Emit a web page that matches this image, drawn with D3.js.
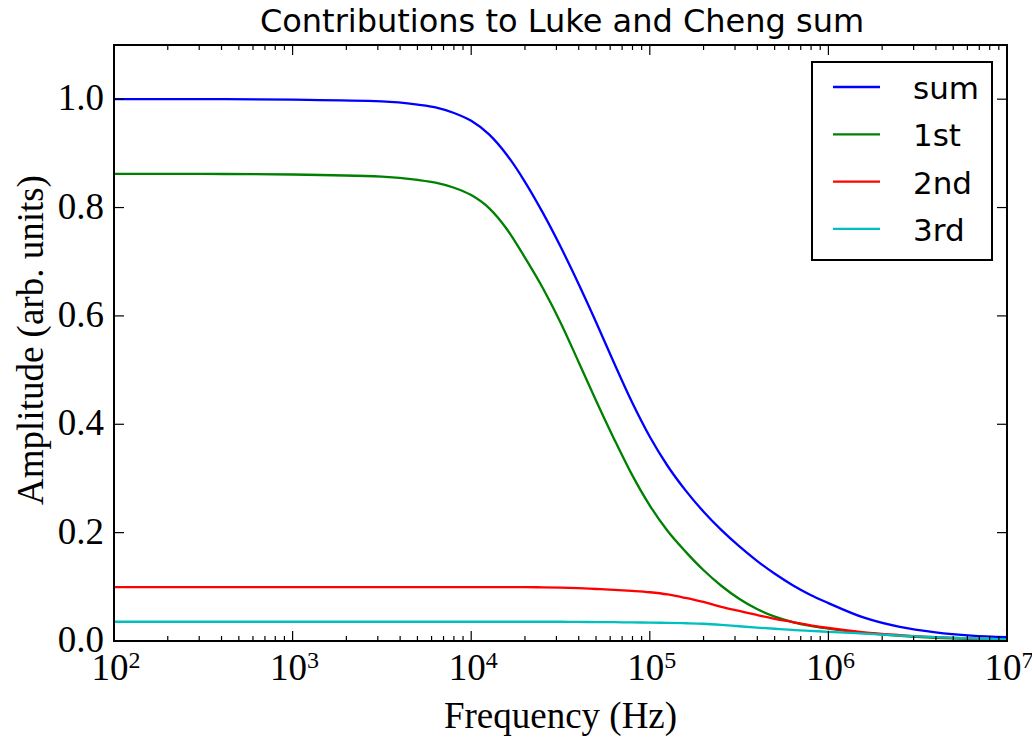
<!DOCTYPE html>
<html>
<head>
<meta charset="utf-8">
<script src="https://cdn.jsdelivr.net/npm/d3@7"></script>
<style>
  html, body { margin: 0; padding: 0; background: #fff; }
  svg { display: block; }
</style>
</head>
<body>
<svg id="chart" width="1032" height="738"></svg>
<script>
// ---- data ----
// log10 of frequency (Hz) at which the curves were read
const logFreq = [2, 2.5, 3, 3.5, 3.7, 3.8, 3.9,
                 4.0, 4.1, 4.2, 4.3, 4.4, 4.5, 4.6, 4.7, 4.8, 4.9,
                 5.0, 5.1, 5.2, 5.3, 5.4, 5.5, 5.6, 5.7, 5.8, 5.9,
                 6.0, 6.2, 6.4, 6.6, 6.8, 7.0];
const sumVals = [1.0, 1.0, 0.999, 0.996, 0.99, 0.985, 0.975,
                 0.96, 0.935, 0.897, 0.848, 0.791, 0.728, 0.66, 0.588, 0.513, 0.441,
                 0.377, 0.323, 0.278, 0.239, 0.205, 0.175, 0.148, 0.124, 0.103, 0.085,
                 0.07, 0.043, 0.026, 0.016, 0.010, 0.007];
const firstVals = [0.862, 0.862, 0.861, 0.857, 0.851, 0.846, 0.837,
                   0.823, 0.799, 0.76, 0.708, 0.652, 0.588, 0.516, 0.443, 0.373, 0.307,
                   0.25, 0.203, 0.165, 0.131, 0.102, 0.078, 0.059, 0.045, 0.035, 0.028,
                   0.023, 0.015, 0.0095, 0.006, 0.004, 0.003];
const secondVals = [0.0995, 0.0995, 0.0995, 0.0995, 0.0995, 0.0995, 0.0995,
                    0.0995, 0.0995, 0.0995, 0.0995, 0.099, 0.0985, 0.0975, 0.096, 0.0945, 0.0925,
                    0.09, 0.086, 0.0795, 0.072, 0.063, 0.0555, 0.048, 0.041, 0.035, 0.029,
                    0.024, 0.016, 0.011, 0.007, 0.0045, 0.003];
const thirdVals = [0.0355, 0.0355, 0.0355, 0.0355, 0.0355, 0.0355, 0.0355,
                   0.0355, 0.0355, 0.0355, 0.0355, 0.0355, 0.0355, 0.0352, 0.035, 0.0347, 0.0343,
                   0.034, 0.0335, 0.0328, 0.0318, 0.0298, 0.0272, 0.0248, 0.0226, 0.0205, 0.0186,
                   0.017, 0.0135, 0.010, 0.007, 0.0048, 0.003];
const seriesNames = ["sum", "1st", "2nd", "3rd"];
const seriesColors = ["#0000ff", "#008000", "#ff0000", "#00bfbf"];
const yTicks = [0.0, 0.2, 0.4, 0.6, 0.8, 1.0];
const xTickExps = [2, 3, 4, 5, 6, 7];
const titleText = "Contributions to Luke and Cheng sum";
const xLabel = "Frequency (Hz)";
const yLabel = "Amplitude (arb. units)";

// ---- layout ----
const svg = d3.select("#chart");
const L = 114, R = 1007, T = 45, B = 641;
const x = d3.scaleLog().domain([1e2, 1e7]).range([L, R]);
const y = d3.scaleLinear().domain([0, 1.1]).range([B, T]);
const serif = "'Liberation Serif', 'Times New Roman', serif";
const sans = "'DejaVu Sans', sans-serif";

// curves
const allSeries = [sumVals, firstVals, secondVals, thirdVals];
const line = d3.line().x(d => x(d[0])).y(d => y(d[1])).curve(d3.curveMonotoneX);
svg.append("clipPath").attr("id", "clip").append("rect")
  .attr("x", L).attr("y", T).attr("width", R - L).attr("height", B - T);
allSeries.forEach((vals, i) => {
  svg.append("path")
    .datum(logFreq.map((lf, j) => [Math.pow(10, lf), vals[j]]))
    .attr("d", line)
    .attr("fill", "none")
    .attr("stroke", seriesColors[i])
    .attr("stroke-width", 2.3)
    .attr("clip-path", "url(#clip)");
});

// ticks (inward, on all four sides)
const minor = [];
for (let e = 2; e < 7; e++) for (let k = 2; k <= 9; k++) minor.push(k * Math.pow(10, e));
const tickG = svg.append("g").attr("stroke", "#000").attr("stroke-width", 1.2);
minor.forEach(v => {
  tickG.append("line").attr("x1", x(v)).attr("x2", x(v)).attr("y1", B).attr("y2", B - 5);
  tickG.append("line").attr("x1", x(v)).attr("x2", x(v)).attr("y1", T).attr("y2", T + 5);
});
xTickExps.forEach(e => {
  const v = Math.pow(10, e);
  tickG.append("line").attr("x1", x(v)).attr("x2", x(v)).attr("y1", B).attr("y2", B - 10);
  tickG.append("line").attr("x1", x(v)).attr("x2", x(v)).attr("y1", T).attr("y2", T + 10);
});
yTicks.forEach(v => {
  tickG.append("line").attr("x1", L).attr("x2", L + 10).attr("y1", y(v)).attr("y2", y(v));
  tickG.append("line").attr("x1", R).attr("x2", R - 10).attr("y1", y(v)).attr("y2", y(v));
});

// frame
svg.append("rect").attr("x", L).attr("y", T).attr("width", R - L).attr("height", B - T)
  .attr("fill", "none").attr("stroke", "#000").attr("stroke-width", 2);

// y tick labels
yTicks.forEach(v => {
  svg.append("text").attr("x", L - 10).attr("y", y(v) + 11)
    .attr("text-anchor", "end").attr("font-family", serif).attr("font-size", 37)
    .text(v.toFixed(1));
});
// x tick labels (10^n)
xTickExps.forEach(e => {
  const t = svg.append("text").attr("x", x(Math.pow(10, e)) + 2).attr("y", 680)
    .attr("text-anchor", "middle").attr("font-family", serif).attr("font-size", 37);
  t.append("tspan").text("10");
  t.append("tspan").attr("font-size", 24).attr("dy", -12).text(String(e));
});

// axis labels
svg.append("text").attr("x", (L + R) / 2).attr("y", 728)
  .attr("text-anchor", "middle").attr("font-family", serif).attr("font-size", 37).text(xLabel);
svg.append("text").attr("transform", `translate(43, ${(T + B) / 2 - 3}) rotate(-90)`)
  .attr("text-anchor", "middle").attr("font-family", serif).attr("font-size", 37).text(yLabel);

// title
svg.append("text").attr("x", 562).attr("y", 32)
  .attr("text-anchor", "middle").attr("font-family", sans).attr("font-size", 32).text(titleText);

// legend
const lg = svg.append("g");
lg.append("rect").attr("x", 812).attr("y", 62).attr("width", 180).attr("height", 198)
  .attr("fill", "#fff").attr("stroke", "#000").attr("stroke-width", 2);
seriesNames.forEach((n, i) => {
  const yy = 87 + i * 47.3;
  lg.append("line").attr("x1", 833).attr("x2", 880).attr("y1", yy).attr("y2", yy)
    .attr("stroke", seriesColors[i]).attr("stroke-width", 2.3);
  lg.append("text").attr("x", 913).attr("y", yy + 12).attr("font-family", sans).attr("font-size", 31).text(n);
});
</script>
</body>
</html>
